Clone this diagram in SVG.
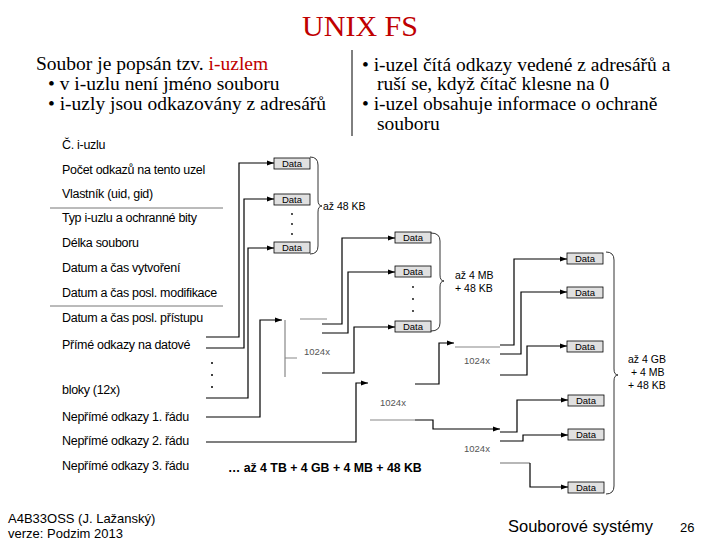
<svg xmlns="http://www.w3.org/2000/svg" width="720" height="540" viewBox="0 0 720 540">
<style>
.t{font-family:"Liberation Serif",serif;font-size:19.5px;fill:#000}
.l{font-family:"Liberation Sans",sans-serif;font-size:12.5px;fill:#000;letter-spacing:-0.3px}
.d{font-family:"Liberation Sans",sans-serif;font-size:9.5px;fill:#000;text-anchor:middle}
.s{font-family:"Liberation Sans",sans-serif;font-size:10.5px;fill:#000}
.g{font-family:"Liberation Sans",sans-serif;font-size:9.5px;fill:#555}
.box{fill:#e0e0e0;stroke:#000;stroke-width:0.8}
.c path{fill:none;stroke:#000;stroke-width:1.2}
.c path.gr{stroke:#888}
.br{fill:none;stroke:#000;stroke-width:0.8}
.dot{fill:#000}
</style>
<defs><marker id="a" markerWidth="8" markerHeight="6" refX="7" refY="3" orient="auto" markerUnits="userSpaceOnUse"><path d="M0,0.5 L7,3 L0,5.5z" fill="#000"/></marker></defs>
<rect width="720" height="540" fill="#fff"/>
<text x="360" y="36" text-anchor="middle" style="font-family:'Liberation Serif',serif;font-size:30px;fill:#c00000">UNIX FS</text>
<text class="t" x="36" y="70">Soubor je popsán tzv. <tspan fill="#c00000">i-uzlem</tspan></text>
<text class="t" x="48" y="90">• v i-uzlu není jméno souboru</text>
<text class="t" x="48" y="110">• i-uzly jsou odkazovány z adresářů</text>
<line x1="352" y1="50" x2="352" y2="136" stroke="#000" stroke-width="1"/>
<text class="t" x="362" y="71">• i-uzel čítá odkazy vedené z adresářů a</text>
<text class="t" x="377" y="90">ruší se, když čítač klesne na 0</text>
<text class="t" x="362" y="110">• i-uzel obsahuje informace o ochraně</text>
<text class="t" x="377" y="130">souboru</text>
<g id="inode">
<text class="l" x="62" y="149">Č. i-uzlu</text>
<text class="l" x="62" y="174">Počet odkazů na tento uzel</text>
<text class="l" x="62" y="198">Vlastník (uid, gid)</text>
<line x1="50" y1="208" x2="223" y2="208" stroke="#777"/>
<text class="l" x="62" y="222">Typ i-uzlu a ochranné bity</text>
<text class="l" x="62" y="247">Délka souboru</text>
<text class="l" x="62" y="272">Datum a čas vytvoření</text>
<text class="l" x="62" y="297">Datum a čas posl. modifikace</text>
<line x1="50" y1="306" x2="223" y2="306" stroke="#777"/>
<text class="l" x="62" y="322">Datum a čas posl. přístupu</text>
<text class="l" x="62" y="349">Přímé odkazy na datové</text>
<text class="l" x="62" y="394">bloky (12x)</text>
<text class="l" x="62" y="421">Nepřímé odkazy 1. řádu</text>
<text class="l" x="62" y="445">Nepřímé odkazy 2. řádu</text>
<text class="l" x="62" y="470">Nepřímé odkazy 3. řádu</text>
<circle class="dot" cx="212" cy="363" r="1"/><circle class="dot" cx="212" cy="375" r="1"/><circle class="dot" cx="212" cy="387" r="1"/>
</g>
<g class="c" id="connectors">
<path d="M206,337 H239 V163 H274" marker-end="url(#a)"/>
<path d="M206,348 H244 V199 H274" marker-end="url(#a)"/>
<path d="M206,398 H248 V248 H274" marker-end="url(#a)"/>
<path d="M206,417 H260 V320 H282" marker-end="url(#a)"/>
<path class="gr" d="M285,320 V377 M285,358 H297 M300,319 H327"/>
<path d="M322,324 H342 V238 H395" marker-end="url(#a)"/>
<path d="M322,333 H348 V272 H395" marker-end="url(#a)"/>
<path d="M322,373 H354 V327 H395" marker-end="url(#a)"/>
<path d="M206,442 H356 V383 H368" marker-end="url(#a)"/>
<path class="gr" d="M370,420 H415"/>
<path d="M415,420 H433 V429 H452 H500" marker-end="url(#a)"/>
<path d="M415,384 H439 V343 H454" marker-end="url(#a)"/>
<path class="gr" d="M455,347 H500"/>
<path d="M500,345 H514 V259 H567" marker-end="url(#a)"/>
<path d="M500,354 H521 V292 H567" marker-end="url(#a)"/>
<path d="M500,375 H527 V346 H567" marker-end="url(#a)"/>
<path d="M500,432 H517 V400 H568" marker-end="url(#a)"/>
<path d="M500,441 H523 V435 H568" marker-end="url(#a)"/>
<path class="gr" d="M500,463 H530"/>
<path d="M530,463 V487 H568" marker-end="url(#a)"/>
</g>
<g id="direct">
<rect class="box" x="274" y="158" width="36" height="11"/><text class="d" x="292" y="167">Data</text>
<rect class="box" x="274" y="194" width="36" height="11"/><text class="d" x="292" y="203">Data</text>
<rect class="box" x="274" y="242" width="36" height="11"/><text class="d" x="292" y="251">Data</text>
<circle class="dot" cx="292" cy="214" r="0.9"/><circle class="dot" cx="292" cy="224" r="0.9"/><circle class="dot" cx="292" cy="234" r="0.9"/>
<path class="br" d="M310,157 Q318,157 318,165 V200 Q318,206 322,206 Q318,206 318,212 V246 Q318,254 310,254"/>
<text class="s" x="323" y="210">až 48 KB</text>
</g>
<g id="ind1">
<text class="g" x="304" y="355">1024x</text>
<rect class="box" x="395" y="232" width="36" height="11"/><text class="d" x="413" y="241">Data</text>
<rect class="box" x="395" y="266" width="36" height="11"/><text class="d" x="413" y="275">Data</text>
<rect class="box" x="395" y="321" width="36" height="11"/><text class="d" x="413" y="330">Data</text>
<circle class="dot" cx="413" cy="287" r="0.9"/><circle class="dot" cx="413" cy="299" r="0.9"/><circle class="dot" cx="413" cy="311" r="0.9"/>
<path class="br" d="M431,233 Q440,233 440,241 V275 Q440,281 444,281 Q440,281 440,287 V323 Q440,331 431,331"/>
<text class="s" x="455" y="279">až 4 MB</text>
<text class="s" x="455" y="292">+ 48 KB</text>
</g>
<g id="ind2">
<text class="g" x="380" y="406">1024x</text>
<text class="g" x="464" y="364">1024x</text>
<text class="g" x="464" y="452">1024x</text>
<rect class="box" x="567" y="253" width="36" height="11"/><text class="d" x="585" y="262">Data</text>
<rect class="box" x="567" y="287" width="36" height="11"/><text class="d" x="585" y="296">Data</text>
<rect class="box" x="567" y="341" width="36" height="11"/><text class="d" x="585" y="350">Data</text>
<rect class="box" x="568" y="395" width="36" height="11"/><text class="d" x="586" y="404">Data</text>
<rect class="box" x="568" y="429" width="36" height="11"/><text class="d" x="586" y="438">Data</text>
<rect class="box" x="568" y="482" width="36" height="11"/><text class="d" x="586" y="491">Data</text>
<path class="br" d="M606,252 Q614,252 614,260 V369 Q614,375 618,375 Q614,375 614,381 V486 Q614,494 606,494"/>
<text class="s" x="628" y="363">až 4 GB</text>
<text class="s" x="631" y="376">+ 4 MB</text>
<text class="s" x="628" y="389">+ 48 KB</text>
</g>
<text x="228" y="472" style="font-family:'Liberation Sans',sans-serif;font-size:12.3px;font-weight:bold">…  až 4 TB + 4 GB + 4 MB + 48 KB</text>
<text x="8" y="523" style="font-family:'Liberation Sans',sans-serif;font-size:13px">A4B33OSS (J. Lažanský)</text>
<text x="8" y="538" style="font-family:'Liberation Sans',sans-serif;font-size:13px">verze: Podzim 2013</text>
<text x="508" y="532" style="font-family:'Liberation Sans',sans-serif;font-size:16.5px">Souborové systémy</text>
<text x="680" y="532" style="font-family:'Liberation Sans',sans-serif;font-size:13px">26</text>
</svg>
